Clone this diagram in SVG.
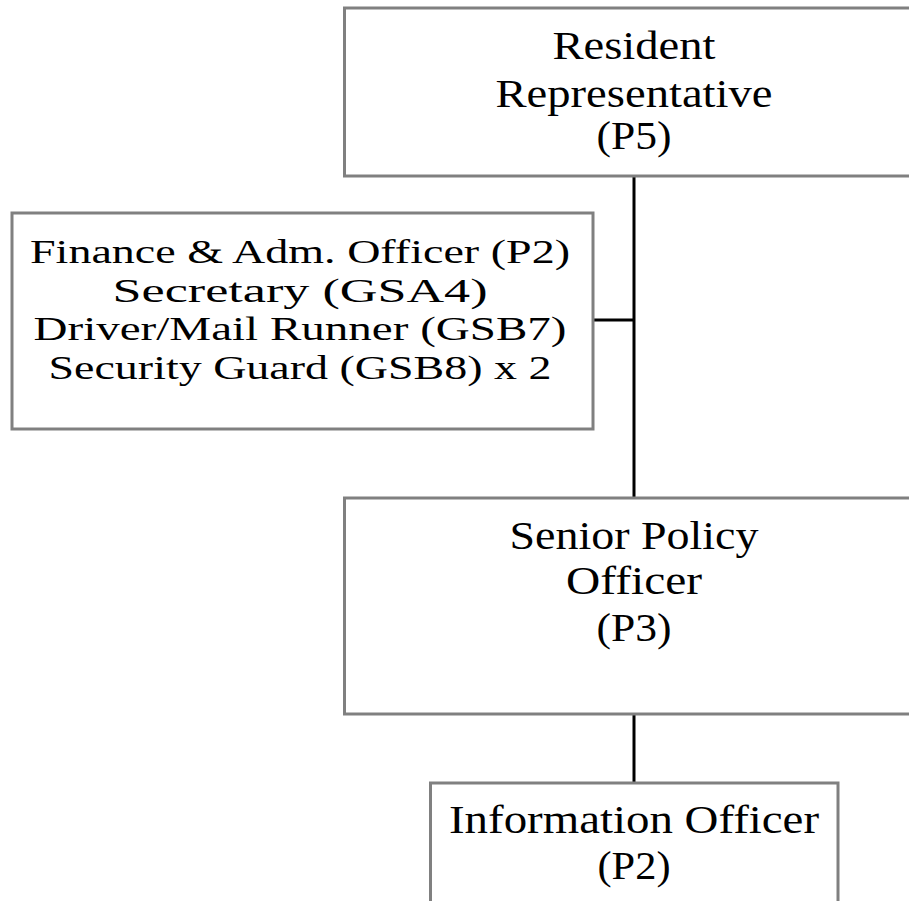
<svg xmlns="http://www.w3.org/2000/svg" width="909" height="901" viewBox="0 0 909 901">
<style>
.box{fill:#fff;stroke:#808080;stroke-width:3}
.t{font-family:"Liberation Serif","Times New Roman",serif;font-size:40px;fill:#000;text-anchor:middle}
.s{font-size:34.5px}
.c{stroke:#000;stroke-width:3;fill:none}
</style>
<rect width="909" height="901" fill="#fff"/>
<g id="connectors">
<line class="c" x1="634" y1="176" x2="634" y2="498"/>
<line class="c" x1="593" y1="320" x2="634" y2="320"/>
<line class="c" x1="634" y1="714" x2="634" y2="783"/>
</g>
<g id="resident-representative">
<rect class="box" x="344.5" y="8" width="600" height="168"/>
<text class="t" x="634" y="59" textLength="163" lengthAdjust="spacingAndGlyphs">Resident</text>
<text class="t" x="634" y="107" textLength="277" lengthAdjust="spacingAndGlyphs">Representative</text>
<text class="t" x="634" y="149" textLength="75" lengthAdjust="spacingAndGlyphs">(P5)</text>
</g>
<g id="support-staff">
<rect class="box" x="12" y="213" width="581" height="216"/>
<text class="t s" x="300" y="263" textLength="540" lengthAdjust="spacingAndGlyphs">Finance &amp; Adm. Officer (P2)</text>
<text class="t s" x="300" y="301.5" textLength="375" lengthAdjust="spacingAndGlyphs">Secretary (GSA4)</text>
<text class="t s" x="300" y="340" textLength="533" lengthAdjust="spacingAndGlyphs">Driver/Mail Runner (GSB7)</text>
<text class="t s" x="300" y="378.5" textLength="503" lengthAdjust="spacingAndGlyphs">Security Guard (GSB8) x 2</text>
</g>
<g id="senior-policy-officer">
<rect class="box" x="344.5" y="498" width="600" height="216"/>
<text class="t" x="634" y="549" textLength="249" lengthAdjust="spacingAndGlyphs">Senior Policy</text>
<text class="t" x="634" y="594" textLength="136" lengthAdjust="spacingAndGlyphs">Officer</text>
<text class="t" x="634" y="641" textLength="75" lengthAdjust="spacingAndGlyphs">(P3)</text>
</g>
<g id="information-officer">
<rect class="box" x="430.5" y="783" width="407.5" height="200"/>
<text class="t" x="634" y="833" textLength="370" lengthAdjust="spacingAndGlyphs">Information Officer</text>
<text class="t" x="634" y="879" textLength="73" lengthAdjust="spacingAndGlyphs">(P2)</text>
</g>
</svg>
